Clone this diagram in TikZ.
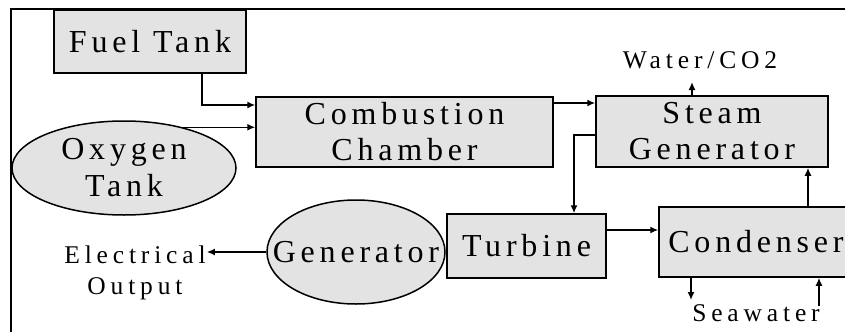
\documentclass[tikz,border=0pt]{standalone}
\usepackage{fontspec}
\setmainfont{Liberation Serif}
\newfontfamily\blockfont{Liberation Serif}[LetterSpace=15]
\newfontfamily\flowfont{Liberation Serif}[LetterSpace=19]
\usetikzlibrary{arrows.meta, shapes.geometric}

\begin{document}
\begin{tikzpicture}[x=1pt, y=-1pt,
        block/.style={rectangle, draw=black, line width=1.5pt, fill=black!11, align=center, inner sep=0pt, font=\blockfont\fontsize{32}{36}\selectfont},
        tank/.style={ellipse, draw=black, line width=1.5pt, fill=black!11, inner sep=0pt, label={[tanktext]center:#1}},
        tanktext/.style={align=center, font=\blockfont\fontsize{32}{37}\selectfont},
        flowtext/.style={align=center, inner sep=1pt, font=\flowfont\fontsize{25.5}{31}\selectfont},
        arrow/.style={-{Latex[length=8pt, width=7pt]}, line width=1.5pt, draw=black}
    ]
        \useasboundingbox (0,0) rectangle (845,332);
        % --- FRAME ---
        \draw[line width=1.5pt] (11,332) -- (11,9) -- (845,9);

        % --- BLOCKS ---
        \node[block, minimum width=192, minimum height=63] (fuel) at (150,41.5) {Fuel Tank};
        \node[block, minimum width=297, minimum height=70] (comb) at (404.5,132) {Combustion\\Chamber};
        \node[block, minimum width=232, minimum height=71] (steam) at (712,131.5) {Steam\\Generator};
        \node[block, minimum width=159, minimum height=64] (turb) at (526.5,246) {Turbine};
        \node[block, minimum width=194, minimum height=70] (cond) at (756,242) {Condenser};

        % --- TANKS ---
        \node[tank={Oxygen\\Tank}, minimum width=224, minimum height=94] (oxy) at (124,168) {};
        \node[tank={Generator}, minimum width=178, minimum height=104] (gen) at (356,252) {};

        % --- IN / OUT ---
        \node[flowtext] (water) at (700,60) {Water/CO2};
        \node[flowtext] (elec) at (135,273) {Electrical\\Output};
        \node[flowtext] (sea) at (756,313) {Seawater};
        \coordinate (oxyout) at ([xshift=59pt, yshift=-7pt]oxy.north);
        \coordinate (wout) at (692,82);
        \coordinate (swout) at (691,300);
        \coordinate (swin) at (819,306);

        % --- CONNECTIONS ---
        \draw[arrow] ([xshift=52pt]fuel.south) |- ([yshift=27pt]comb.west);
        \draw[arrow] (oxyout) -- (oxyout -| comb.west);
        \draw[arrow] ([yshift=29pt]comb.east) -- ([yshift=29pt]comb.east -| steam.west);
        \draw[arrow] ([yshift=-3.5pt]steam.west) -| ([xshift=47.5pt]turb.north);
        \draw[arrow] ([yshift=16pt]turb.east) -- ([yshift=16pt]turb.east -| cond.west);
        \draw[arrow] ([xshift=96pt]steam.south |- cond.north) -- ([xshift=96pt]steam.south);
        \draw[arrow] (steam.north -| wout) -- (wout);
        \draw[arrow] (gen.west) -- (gen.west -| elec.east);
        \draw[arrow] (cond.south -| swout) -- (swout);
        \draw[arrow] (swin) -- (swin |- cond.south);

    \end{tikzpicture}
\end{document}
